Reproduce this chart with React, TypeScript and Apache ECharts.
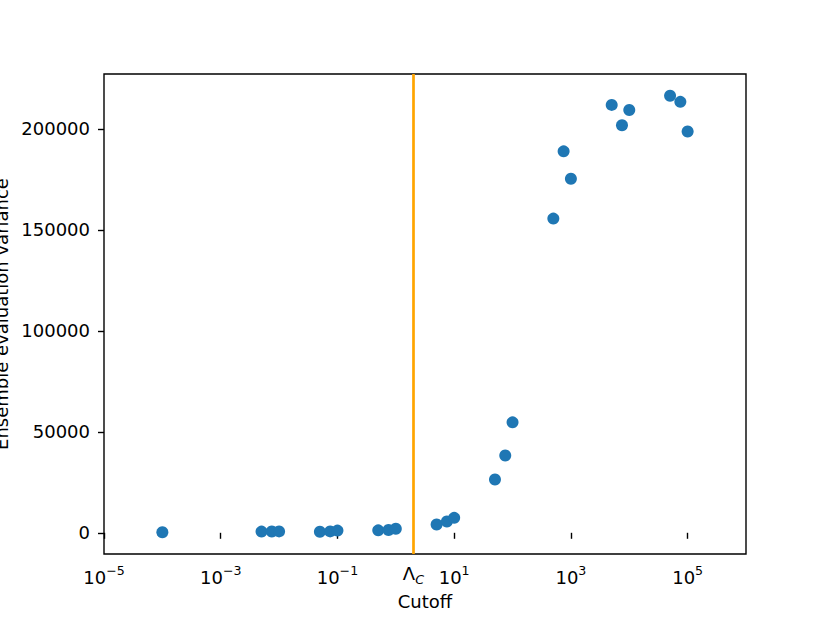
import React, { useEffect, useRef } from "react";
import * as echarts from "echarts";

const cutoffs = [1e-4, 0.005, 0.0075, 0.01, 0.05, 0.075, 0.1, 0.5, 0.75, 1, 5, 7.5, 10, 50, 75, 100, 500, 750, 1000, 5000, 7500, 10000, 50000, 75000, 100000];
const variances = [300, 600, 650, 700, 500, 700, 1100, 1200, 1400, 2000, 4100, 5600, 7400, 26400, 38300, 54700, 155600, 188900, 175300, 211900, 201800, 209400, 216400, 213400, 198700];
const lambdaC = 2;
const xTickValues = [1e-5, 1e-3, 1e-1, 10, 1e3, 1e5];
const xLabelValues = [1e-5, 1e-3, 1e-1, lambdaC, 10, 1e3, 1e5];
const yTickValues = [0, 50000, 100000, 150000, 200000];

const FONT = "DejaVu Sans";

export default function App() {
  const ref = useRef<HTMLDivElement>(null);
  useEffect(() => {
    document.body.style.margin = "0";
    const chart = echarts.init(ref.current!, null, { renderer: "svg" });
    const data = cutoffs.map((c, i) => [c, variances[i]]);
    chart.setOption({
      animation: false,
      backgroundColor: "#ffffff",
      textStyle: { fontFamily: FONT },
      grid: {
        left: 104, top: 74, width: 642, height: 480,
        outerBoundsMode: "none", containLabel: false,
        show: true, borderColor: "#000", borderWidth: 1.4, backgroundColor: "transparent",
      },
      xAxis: {
        type: "log", logBase: 10, min: 1e-5, max: 1e6,
        name: "Cutoff", nameLocation: "middle", nameGap: 38,
        nameTextStyle: { fontSize: 18, color: "#000", fontFamily: FONT },
        axisLine: { show: false },
        splitLine: { show: false },
        minorTick: { show: false },
        axisTick: { show: true, length: 6, inside: false, lineStyle: { color: "#000", width: 1.4 }, customValues: xTickValues },
        axisLabel: {
          customValues: xLabelValues,
          margin: 10,
          color: "#000",
          fontFamily: FONT,
          formatter: (v: number) => {
            if (Math.abs(v - lambdaC) < 1e-9) return "{L|Λ}{sub|C}";
            const e = Math.round(Math.log10(v));
            const s = e < 0 ? "\u2212" + Math.abs(e) : String(e);
            return "{b|10}{sup|" + s + "}";
          },
          rich: {
            b: { fontSize: 18, lineHeight: 22, verticalAlign: "bottom", fontFamily: FONT, color: "#000" },
            sup: { fontSize: 12.6, lineHeight: 14, verticalAlign: "top", fontFamily: FONT, color: "#000" },
            L: { fontSize: 18, lineHeight: 22, verticalAlign: "top", fontFamily: FONT, color: "#000" },
            sub: { fontSize: 12.6, lineHeight: 14, verticalAlign: "bottom", fontStyle: "italic", fontFamily: FONT, color: "#000" },
          },
        },
      },
      yAxis: {
        type: "value", min: -10500, max: 227200,
        name: "Ensemble evaluation variance", nameLocation: "middle", nameGap: 87,
        nameTextStyle: { fontSize: 18, color: "#000", fontFamily: FONT },
        axisLine: { show: false },
        splitLine: { show: false },
        axisTick: { show: true, length: 6, inside: false, lineStyle: { color: "#000", width: 1.4 }, customValues: yTickValues },
        axisLabel: {
          customValues: yTickValues, margin: 14, fontSize: 18, color: "#000", fontFamily: FONT,
          formatter: (v: number) => String(v),
        },
      },
      series: [
        {
          type: "scatter",
          data,
          symbolSize: 12,
          itemStyle: { color: "#1f77b4", opacity: 1 },
          markLine: {
            silent: true,
            symbol: "none",
            label: { show: false },
            lineStyle: { color: "#ffa500", width: 2.7, type: "solid" },
            data: [{ xAxis: lambdaC }],
          },
        },
      ],
    });
    return () => chart.dispose();
  }, []);
  return <div ref={ref} style={{ width: 830, height: 623 }} />;
}
